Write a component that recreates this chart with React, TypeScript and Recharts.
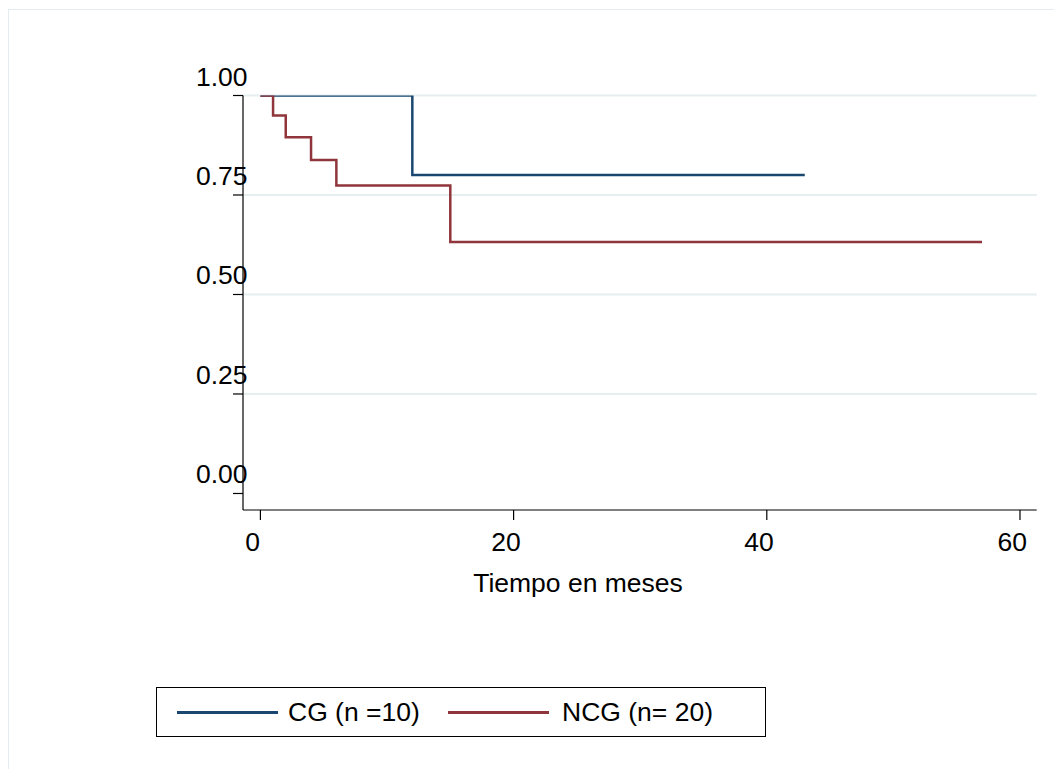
import React from "react";
import { LineChart, Line, XAxis, YAxis, CartesianGrid } from "recharts";

// ---- data ----
const timeCG = [0, 12, 43];
const survCG = [1, 0.8, 0.8];
const timeNCG = [0, 1, 2, 4, 6, 15, 57];
const survNCG = [1, 0.95, 0.895, 0.838, 0.774, 0.632, 0.632];

const xTicks = [0, 20, 40, 60];
const yTicks = [0, 0.25, 0.5, 0.75, 1];
const yTickLabels = ["0.00", "0.25", "0.50", "0.75", "1.00"];
const gridValues = [0.25, 0.5, 0.75, 1];

const seriesNames = ["CG (n =10)", "NCG (n= 20)"];
const seriesColors = ["#1a476f", "#90353b"];
const xTitle = "Tiempo en meses";

const cgData = timeCG.map((t, i) => ({ t, s: survCG[i] }));
const ncgData = timeNCG.map((t, i) => ({ t, s: survNCG[i] }));
const seriesData = [cgData, ncgData];

const FONT = '"Liberation Sans", Arial, Helvetica, sans-serif';
const FS = 26.5;

const YTick = (props: any) => {
  const { x, payload } = props;
  const idx = yTicks.indexOf(payload.value);
  return (
    <text
      x={x + 14.5}
      y={payload.coordinate - 10}
      textAnchor="end"
      fontFamily={FONT}
      fontSize={FS}
      fill="#000"
    >
      {idx >= 0 ? yTickLabels[idx] : String(payload.value)}
    </text>
  );
};

const XTick = (props: any) => {
  const { x, y, payload } = props;
  return (
    <text
      x={x - 7.7}
      y={y + 31}
      textAnchor="middle"
      fontFamily={FONT}
      fontSize={FS}
      fill="#000"
    >
      {String(payload.value)}
    </text>
  );
};

const XTitle = (props: any) => {
  const vb = props.viewBox || { x: 0, y: 0 };
  return (
    <text
      x={vb.x + 335}
      y={vb.y + 82}
      textAnchor="middle"
      fontFamily={FONT}
      fontSize={FS}
      fill="#000"
    >
      {xTitle}
    </text>
  );
};

export default function App() {
  return (
    <div
      style={{
        position: "absolute",
        left: 0,
        top: 0,
        width: 1054,
        height: 769,
        overflow: "hidden",
        background: "#fff",
      }}
    >
      <div
        style={{
          position: "absolute",
          left: 8,
          top: 9,
          width: 1200,
          height: 900,
          border: "1.5px solid #e3ecef",
        }}
      />
      <div style={{ position: "absolute", left: 0, top: 0 }}>
        <LineChart
          width={1054}
          height={769}
          margin={{ top: 95.5, right: 17.3, left: 183, bottom: 199 }}
        >
          <CartesianGrid
            vertical={false}
            horizontalValues={gridValues}
            stroke="#e6eef0"
            strokeWidth={1.8}
          />
          <XAxis
            type="number"
            dataKey="t"
            domain={[-1.375, 61.32]}
            ticks={xTicks}
            allowDataOverflow
            height={60}
            tickSize={10}
            tickMargin={0}
            stroke="#000"
            axisLine={{ stroke: "#000", strokeWidth: 1.2 }}
            tickLine={{ stroke: "#000", strokeWidth: 1.2 }}
            tick={<XTick />}
            label={{ content: (p: any) => <XTitle {...p} /> }}
          />
          <YAxis
            type="number"
            dataKey="s"
            domain={[-0.0415, 1]}
            ticks={yTicks}
            allowDataOverflow
            width={60}
            tickSize={10}
            tickMargin={0}
            stroke="#000"
            axisLine={{ stroke: "#000", strokeWidth: 1.2 }}
            tickLine={{ stroke: "#000", strokeWidth: 1.2 }}
            tick={<YTick />}
          />
          {seriesData.map((d, i) => (
            <Line
              key={seriesNames[i]}
              data={d}
              dataKey="s"
              type="stepAfter"
              stroke={seriesColors[i]}
              strokeWidth={2.5}
              dot={false}
              activeDot={false}
              isAnimationActive={false}
            />
          ))}
        </LineChart>
      </div>
      <div
        style={{
          position: "absolute",
          left: 156,
          top: 687,
          width: 610,
          height: 50,
          border: "1.2px solid #000",
          boxSizing: "border-box",
          display: "flex",
          alignItems: "center",
          paddingLeft: 20,
          fontFamily: FONT,
          fontSize: FS,
          color: "#000",
        }}
      >
        {seriesNames.map((name, i) => (
          <div
            key={name}
            style={{
              display: "flex",
              alignItems: "center",
              width: i === 0 ? 271 : undefined,
            }}
          >
            <div
              style={{
                width: 101,
                height: 3,
                background: seriesColors[i],
                marginRight: i === 0 ? 10 : 13,
              }}
            />
            <span style={{ whiteSpace: "nowrap", lineHeight: 1 }}>{name}</span>
          </div>
        ))}
      </div>
    </div>
  );
}
